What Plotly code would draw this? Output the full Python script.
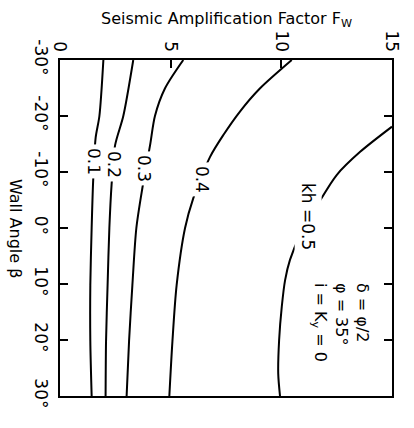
import plotly.graph_objects as go

# Wall angle beta (deg) and seismic amplification factor F_W for each k_h contour
beta_01 = [-30, -20, -16.1, -8.6, 0, 10.2, 20.2, 30]
fw_01 = [1.96, 1.78, 1.61, 1.50, 1.43, 1.37, 1.37, 1.43]

beta_02 = [-30, -20, -14.8, -7.7, 0, 10.2, 20.2, 30]
fw_02 = [3.31, 2.86, 2.49, 2.33, 2.23, 2.15, 2.08, 2.06]

beta_03 = [-30, -24.9, -20, -14.8, -7.1, 0, 10.2, 20.2, 30]
fw_03 = [5.57, 4.74, 4.29, 4.07, 3.72, 3.45, 3.27, 3.12, 3.01]

beta_04 = [-30, -24.95, -20.8, -16.6, -12.7, -5.3, 0, 10.2, 20.2, 30]
fw_04 = [10.47, 9.04, 8.13, 7.38, 6.78, 6.02, 5.65, 5.27, 5.08, 4.94]

beta_05 = [-18.1, -13.6, -9.46, -4.7, 1.25, 5.7, 9.3, 14.05, 20, 26, 30]
fw_05 = [15.0, 13.56, 12.5, 11.72, 10.85, 10.39, 10.17, 10.02, 9.90, 9.86, 9.94]

curves = [
    ("0.1", beta_01, fw_01),
    ("0.2", beta_02, fw_02),
    ("0.3", beta_03, fw_03),
    ("0.4", beta_04, fw_04),
    ("kh =0.5", beta_05, fw_05),
]

x_ticks = [0, 5, 10, 15]
x_ticklabels = ["0", "5", "10", "15"]
y_ticks = [-30, -20, -10, 0, 10, 20, 30]
y_ticklabels = ["-30°", "-20°", "-10°", "0°", "10°", "20°", "30°"]

# contour label anchor points (F_W, beta)
label_pos = {
    "0.1": (1.54, -11.96),
    "0.2": (2.44, -11.43),
    "0.3": (3.80, -10.71),
    "0.4": (6.42, -8.75),
    "kh =0.5": (11.21, -2.14),
}

FONT = "DejaVu Sans"

fig = go.Figure()
for name, b, f in curves:
    fig.add_trace(go.Scatter(
        x=f, y=b, mode="lines", name=name,
        line=dict(color="black", width=2, shape="spline", smoothing=0.8),
        showlegend=False, hoverinfo="skip",
    ))

annotations = []
for name, (fx, by) in label_pos.items():
    annotations.append(dict(
        x=fx, y=by, xref="x", yref="y", text=name, showarrow=False,
        textangle=90, bgcolor="white", borderpad=3,
        xanchor="center", yanchor="middle",
        font=dict(family=FONT, size=17, color="black"),
    ))

annotations.append(dict(
    x=12.65, y=16.96, xref="x", yref="y",
    text="δ = φ/2<br>φ = 35°<br>i = K<sub>y</sub> = 0",
    showarrow=False, textangle=90, align="left",
    xanchor="center", yanchor="middle",
    font=dict(family=FONT, size=16, color="black"),
))

annotations.append(dict(
    x=-0.1325, y=0.5, xref="paper", yref="paper", text="Wall Angle β",
    showarrow=False, textangle=90, xanchor="center", yanchor="middle",
    font=dict(family=FONT, size=16, color="black"),
))

annotations.append(dict(
    x=0.503, y=1.122, xref="paper", yref="paper",
    text="Seismic Amplification Factor F<sub>W</sub>",
    showarrow=False, xanchor="center", yanchor="middle",
    font=dict(family=FONT, size=16, color="black"),
))

fig.update_layout(
    width=414, height=428,
    margin=dict(l=60, r=22, t=60, b=32),
    paper_bgcolor="white", plot_bgcolor="white",
    annotations=annotations,
    xaxis=dict(
        range=[0, 15], side="top", tickmode="array",
        tickvals=x_ticks, ticktext=x_ticklabels, tickangle=90,
        ticks="inside", ticklen=8, tickwidth=2, tickcolor="black",
        showline=True, linewidth=2, linecolor="black", mirror=True,
        showgrid=False, zeroline=False,
        tickfont=dict(family=FONT, size=17, color="black"),
    ),
    yaxis=dict(
        range=[30, -30], tickmode="array",
        tickvals=y_ticks, ticktext=y_ticklabels, tickangle=90,
        ticks="inside", ticklen=8, tickwidth=2, tickcolor="black",
        showline=True, linewidth=2, linecolor="black", mirror="ticks",
        showgrid=False, zeroline=False, ticklabelstandoff=3,
        tickfont=dict(family=FONT, size=17, color="black"),
    ),
)

fig.write_html("out.html")
